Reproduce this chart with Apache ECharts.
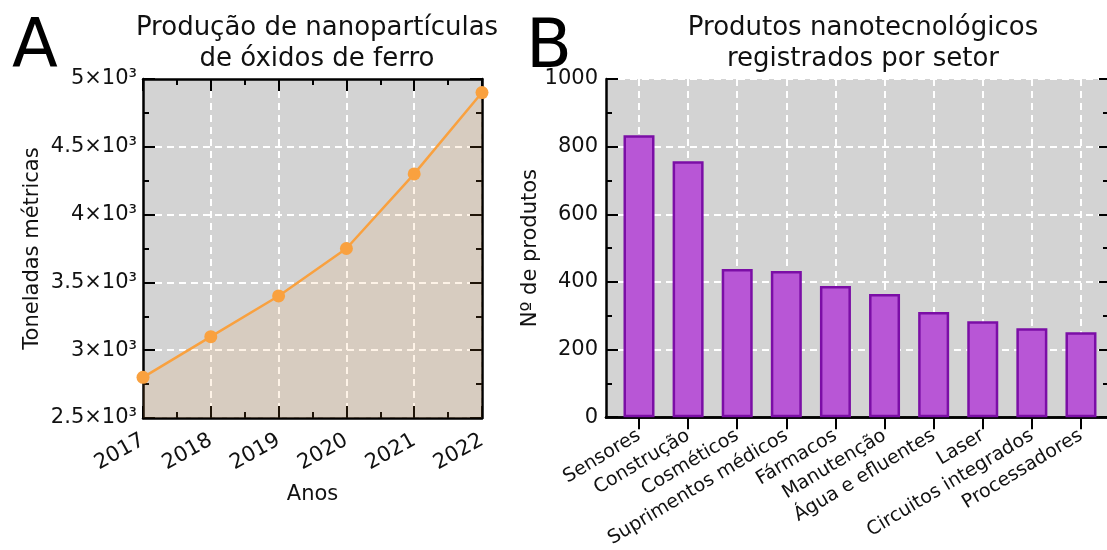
<!DOCTYPE html>
<html><head><meta charset="utf-8">
<script src="https://cdn.jsdelivr.net/npm/echarts@6/dist/echarts.min.js"></script>
<style>html,body{margin:0;padding:0;background:#fff}#c{width:1107px;height:550px}</style>
</head><body><div id="c"></div>
<script>
const years = [2017, 2018, 2019, 2020, 2021, 2022];
const tonnes = [2800, 3100, 3400, 3750, 4300, 4900];
const sectors = ['Sensores', 'Construção', 'Cosméticos', 'Suprimentos médicos', 'Fármacos', 'Manutenção', 'Água e efluentes', 'Laser', 'Circuitos integrados', 'Processadores'];
const products = [834, 757, 438, 432, 388, 364, 311, 284, 263, 251];

const FONT = 'DejaVu Sans';
const positions = sectors.map((s, i) => i + 1);

const lineBlack = { show: true, lineStyle: { color: '#000', width: 2.5 } };
const gridDash = { show: true, lineStyle: { color: '#fff', width: 2, type: [7, 5] } };
const tickIn = { show: true, inside: true, length: 12, lineStyle: { color: '#000', width: 2 } };
const minorIn = { show: true, splitNumber: 2, length: 6, lineStyle: { color: '#000', width: 2 } };
const TXT = '#111';

const chart = echarts.init(document.getElementById('c'));
chart.setOption({
  animation: false,
  textStyle: { fontFamily: FONT },
  title: [
    { text: 'Produção de nanopartículas\nde óxidos de ferro', left: 312, top: 8, textAlign: 'center',
      textStyle: { fontFamily: FONT, fontSize: 26, fontWeight: 'normal', color: TXT, lineHeight: 31 } },
    { text: 'Produtos nanotecnológicos\nregistrados por setor', left: 858, top: 8, textAlign: 'center',
      textStyle: { fontFamily: FONT, fontSize: 26, fontWeight: 'normal', color: TXT, lineHeight: 31 } },
    { text: 'A', left: 7, top: 11, textStyle: { fontFamily: FONT, fontSize: 67, fontWeight: 'normal', color: '#000' } },
    { text: 'B', left: 521, top: 11, textStyle: { fontFamily: FONT, fontSize: 67, fontWeight: 'normal', color: '#000' } }
  ],
  grid: [
    { left: 143, top: 79, width: 339, height: 339, show: true, backgroundColor: '#d3d3d3', borderWidth: 0 },
    { left: 606, top: 79, width: 501, height: 339, show: true, backgroundColor: '#d3d3d3', borderWidth: 0 }
  ],
  xAxis: [
    { gridIndex: 0, type: 'value', min: 2017, max: 2022, interval: 1, position: 'bottom',
      axisLine: lineBlack, axisTick: tickIn, minorTick: minorIn, splitLine: gridDash,
      axisLabel: { rotate: 29, fontSize: 21, color: TXT, margin: 21, formatter: v => String(v) },
      name: 'Anos', nameLocation: 'middle', nameGap: 66, nameTextStyle: { fontSize: 21, color: TXT } },
    { gridIndex: 0, type: 'value', min: 2017, max: 2022, interval: 1, position: 'top',
      axisLine: lineBlack, axisTick: tickIn, minorTick: minorIn, splitLine: { show: false }, axisLabel: { show: false } },
    { gridIndex: 1, type: 'value', min: 0.328, max: 10.53, position: 'bottom',
      axisLine: lineBlack,
      axisTick: Object.assign({}, tickIn, { customValues: positions }),
      splitLine: gridDash,
      axisLabel: { customValues: positions, rotate: 31, fontSize: 19, color: TXT, margin: 17,
        formatter: v => sectors[Math.round(v) - 1] || '' } },
    { gridIndex: 1, type: 'value', min: 0.328, max: 10.53, position: 'top',
      axisLine: lineBlack,
      axisTick: Object.assign({}, tickIn, { customValues: positions }),
      splitLine: { show: false }, axisLabel: { show: false } }
  ],
  yAxis: [
    { gridIndex: 0, type: 'value', min: 2500, max: 5000, interval: 500, position: 'left',
      axisLine: lineBlack, axisTick: tickIn, minorTick: minorIn, splitLine: gridDash,
      axisLabel: { fontSize: 21, color: TXT, margin: 6, formatter: v => (v / 1000) + '×10³' },
      name: 'Toneladas métricas', nameLocation: 'middle', nameGap: 100, nameTextStyle: { fontSize: 21, color: TXT } },
    { gridIndex: 0, type: 'value', min: 2500, max: 5000, interval: 500, position: 'right',
      axisLine: lineBlack, axisTick: tickIn, minorTick: minorIn, splitLine: { show: false }, axisLabel: { show: false } },
    { gridIndex: 1, type: 'value', min: 0, max: 1000, interval: 200, position: 'left',
      axisLine: lineBlack, axisTick: tickIn, minorTick: minorIn, splitLine: gridDash,
      axisLabel: { fontSize: 21, color: TXT, margin: 8, formatter: v => String(v) },
      name: 'Nº de produtos', nameLocation: 'middle', nameGap: 52, nameTextStyle: { fontSize: 21, color: TXT } },
    { gridIndex: 1, type: 'value', min: 0, max: 1000, interval: 200, position: 'right',
      axisLine: { show: false }, axisTick: Object.assign({}, tickIn, { length: 8 }),
      minorTick: Object.assign({}, minorIn, { length: 4 }), splitLine: { show: false }, axisLabel: { show: false } }
  ],
  series: [
    { type: 'line', xAxisIndex: 0, yAxisIndex: 0,
      data: years.map((y, i) => [y, tonnes[i]]),
      symbol: 'circle', symbolSize: 13,
      lineStyle: { color: '#f9a13f', width: 2.5 },
      itemStyle: { color: '#f9a13f' },
      areaStyle: { color: 'rgba(249,160,64,0.18)', origin: 'start' } },
    { type: 'bar', xAxisIndex: 2, yAxisIndex: 2,
      data: positions.map((p, i) => [p, products[i]]),
      barWidth: 31,
      itemStyle: { color: '#b856d6', borderColor: '#7b0ea6', borderWidth: 2.5 } }
  ]
});
</script></body></html>
